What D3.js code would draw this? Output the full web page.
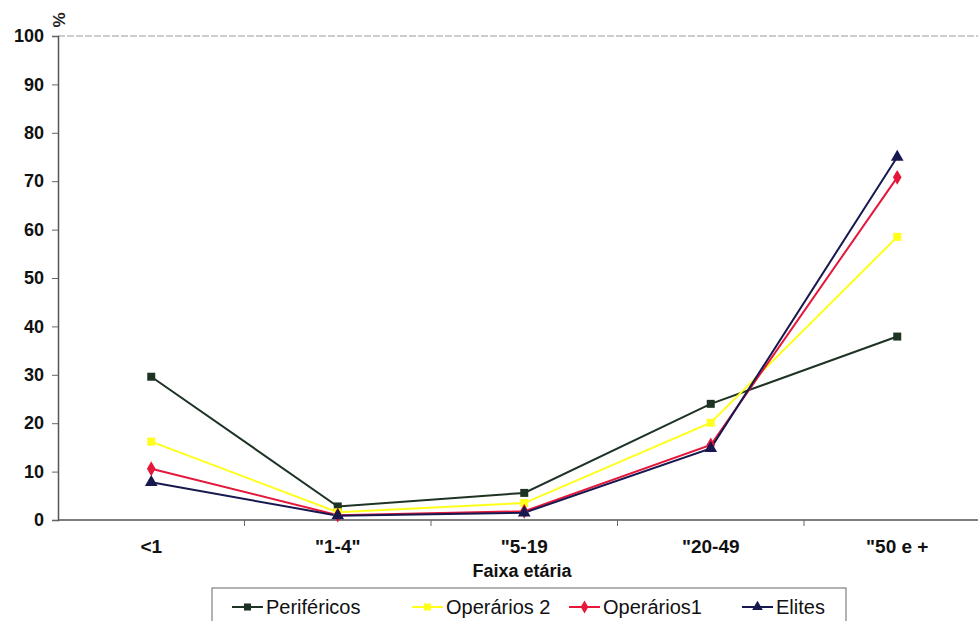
<!DOCTYPE html>
<html>
<head>
<meta charset="utf-8">
<script src="https://cdn.jsdelivr.net/npm/d3@7"></script>
<style>
  body { margin: 0; background: #fff; }
  svg text { font-family: "Liberation Sans", Arial, sans-serif; }
</style>
</head>
<body>
<svg id="chart" width="978" height="621"></svg>
<script>
// categories on the x axis
var faixas = ['<1', '"1-4"', '"5-19', '"20-49', '"50 e +'];
var yTicks = [0, 10, 20, 30, 40, 50, 60, 70, 80, 90, 100];

// series values (%)
var perifericos = [29.6, 2.8, 5.6, 24.0, 37.9];
var operarios2  = [16.2, 1.6, 3.5, 20.1, 58.5];
var operarios1  = [10.6, 1.0, 1.8, 15.5, 70.8];
var elites      = [7.8, 0.9, 1.5, 14.8, 75.0];

var series = [
  {key: "Periféricos", values: perifericos, color: "#1d3323", shape: d3.symbolSquare},
  {key: "Operários 2", values: operarios2, color: "#ffff1a", shape: d3.symbolSquare},
  {key: "Operários1",  values: operarios1, color: "#e5173a", shape: d3.symbolDiamond},
  {key: "Elites",      values: elites,     color: "#17184f", shape: d3.symbolTriangle}
];

var svg = d3.select('#chart');

var x = d3.scaleBand().domain(faixas).range([58, 990.5]);
var y = d3.scaleLinear().domain([0, 100]).range([520, 36]);
var cx = function(i) { return x(faixas[i]) + x.bandwidth() / 2; };

// top border line (dotted grey)
svg.append("line")
    .attr("x1", 58).attr("x2", 978)
    .attr("y1", y(100)).attr("y2", y(100))
    .attr("stroke", "#9a9a9a").attr("stroke-width", 1)
    .attr("stroke-dasharray", "7,2");

// y axis
var yAxis = svg.append("g").attr("transform", "translate(58,0)")
    .call(d3.axisLeft(y).tickValues(yTicks).tickSize(6).tickPadding(8));
yAxis.select(".domain").attr("stroke", "#555").attr("stroke-width", 1.5);
yAxis.selectAll(".tick line").attr("stroke", "#666");
yAxis.selectAll(".tick text")
    .attr("font-size", 18).attr("font-weight", "bold")
    .attr("font-family", "Liberation Sans, Arial, sans-serif")
    .attr("fill", "#111");

// x axis
var xAxis = svg.append("g").attr("transform", "translate(0," + y(0) + ")")
    .call(d3.axisBottom(x).tickSize(0).tickPadding(20));
xAxis.select(".domain").attr("stroke", "#555").attr("stroke-width", 1.5)
    .attr("d", "M58,0H978");
xAxis.selectAll(".tick text")
    .attr("font-size", 19).attr("font-weight", "bold")
    .attr("font-family", "Liberation Sans, Arial, sans-serif")
    .attr("fill", "#111");
// category separators
xAxis.selectAll(".sep")
    .data(faixas.slice(1))
    .enter().append("line")
    .attr("x1", function(d) { return x(d); })
    .attr("x2", function(d) { return x(d); })
    .attr("y1", 0).attr("y2", 6)
    .attr("stroke", "#666");

// % label
svg.append("text")
    .attr("transform", "translate(65,20) rotate(-90)")
    .attr("text-anchor", "middle")
    .attr("font-size", 17).attr("font-weight", "bold")
    .attr("fill", "#222")
    .text("%");

// axis title
svg.append("text")
    .attr("x", 522).attr("y", 577)
    .attr("text-anchor", "middle")
    .attr("font-size", 18).attr("font-weight", "bold")
    .attr("fill", "#111")
    .text("Faixa etária");

// lines
var line = d3.line()
    .x(function(d, i) { return cx(i); })
    .y(function(d) { return y(d); });

var g = svg.append("g");
series.forEach(function(s) {
  g.append("path")
      .datum(s.values)
      .attr("d", line)
      .attr("fill", "none")
      .attr("stroke", s.color)
      .attr("stroke-width", 2);
});
series.forEach(function(s) {
  g.selectAll(null)
      .data(s.values)
      .enter().append("path")
      .attr("transform", function(d, i) { return "translate(" + cx(i) + "," + y(d) + ")"; })
      .attr("d", d3.symbol().type(s.shape).size(s.shape === d3.symbolTriangle ? 70 : 64))
      .attr("fill", s.color);
});

// legend
var legend = svg.append("g");
legend.append("rect")
    .attr("x", 212).attr("y", 588)
    .attr("width", 634).attr("height", 40)
    .attr("fill", "none").attr("stroke", "#666").attr("stroke-width", 1);

var legendX = [232, 412, 569, 742];
series.forEach(function(s, i) {
  var item = legend.append("g").attr("transform", "translate(" + legendX[i] + ",607)");
  item.append("line")
      .attr("x1", 0).attr("x2", 31)
      .attr("stroke", s.color).attr("stroke-width", 2);
  item.append("path")
      .attr("transform", "translate(15.5,0)")
      .attr("d", d3.symbol().type(s.shape).size(50))
      .attr("fill", s.color);
  item.append("text")
      .attr("x", 34).attr("y", 7)
      .attr("font-size", 20)
      .attr("fill", "#111")
      .text(s.key);
});
</script>
</body>
</html>
